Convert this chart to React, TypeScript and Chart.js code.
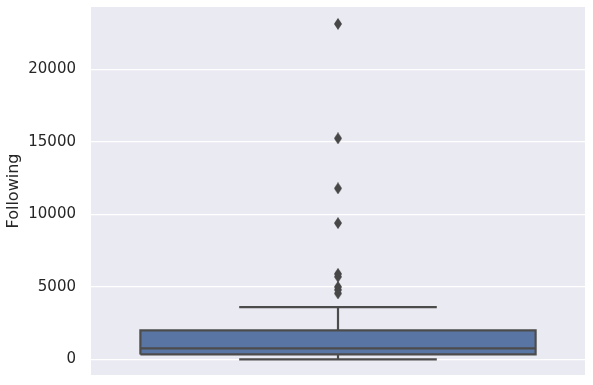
import React, { useEffect, useRef } from "react";
import { Chart, registerables } from "chart.js";

Chart.register(...registerables);

// Box statistics (Following)
const q1 = 340;
const median = 760;
const q3 = 2000;
const whiskerLow = 0;
const whiskerHigh = 3600;
const outliers = [23150, 15250, 11800, 9400, 5900, 5700, 5000, 4800, 4550];
const yTicks = [0, 5000, 10000, 15000, 20000];
const yLabel = "Following";

const boxHalf = 0.4;
const capHalf = 0.2;

const lineColor = "#4c4c4c";
const boxFill = "#5975a4";

function makeDiamond(): HTMLCanvasElement {
  const c = document.createElement("canvas");
  const w = 8, h = 12;
  c.width = w; c.height = h;
  const ctx = c.getContext("2d")!;
  ctx.fillStyle = "#474747";
  ctx.beginPath();
  ctx.moveTo(w / 2, 0);
  ctx.lineTo(w, h / 2);
  ctx.lineTo(w / 2, h);
  ctx.lineTo(0, h / 2);
  ctx.closePath();
  ctx.fill();
  return c;
}

export default function App() {
  const ref = useRef<HTMLCanvasElement>(null);
  useEffect(() => {
    const diamond = makeDiamond();
    const seg = (pts: { x: number; y: number }[]) => ({
      type: "line" as const,
      data: pts,
      borderColor: lineColor,
      borderWidth: 2.2,
      pointRadius: 0,
      fill: false,
      tension: 0,
    });
    const chart = new Chart(ref.current!, {
      type: "line",
      data: {
        datasets: [
          {
            type: "line",
            data: [
              { x: -boxHalf, y: q1 },
              { x: boxHalf, y: q1 },
              { x: boxHalf, y: q3 },
              { x: -boxHalf, y: q3 },
              { x: -boxHalf, y: q1 },
            ],
            borderColor: lineColor,
            backgroundColor: boxFill,
            borderWidth: 2.2,
            pointRadius: 0,
            fill: "shape",
            tension: 0,
            order: 1,
          } as any,
          seg([{ x: -boxHalf, y: median }, { x: boxHalf, y: median }]),
          seg([{ x: 0, y: q3 }, { x: 0, y: whiskerHigh }]),
          seg([{ x: 0, y: q1 }, { x: 0, y: whiskerLow }]),
          seg([{ x: -capHalf, y: whiskerHigh }, { x: capHalf, y: whiskerHigh }]),
          seg([{ x: -capHalf, y: whiskerLow }, { x: capHalf, y: whiskerLow }]),
          {
            type: "scatter",
            data: outliers.map((v) => ({ x: 0, y: v })),
            pointStyle: diamond,
            pointRadius: 5,
            showLine: false,
          } as any,
        ],
      },
      options: {
        animation: false,
        responsive: false,
        layout: { padding: { top: 7, bottom: 10, right: 8, left: 0 } },
        plugins: { legend: { display: false }, tooltip: { enabled: false } },
        scales: {
          x: { type: "linear", min: -0.5, max: 0.5, display: false },
          y: {
            type: "linear",
            min: -1083,
            max: 24317,
            border: { display: false },
            grid: { color: "#ffffff", lineWidth: 1.3, drawTicks: false },
            afterBuildTicks: (s: any) => {
              s.ticks = yTicks.map((v) => ({ value: v }));
            },
            afterFit: (s: any) => {
              s.width = 91;
              s.paddingTop = 0;
              s.paddingBottom = 0;
            },
            ticks: {
              padding: 15,
              color: "#262626",
              font: { family: "DejaVu Sans", size: 15 },
              callback: (v: any) => String(v),
            },
            title: {
              display: true,
              text: yLabel,
              color: "#262626",
              font: { family: "DejaVu Sans", size: 16 },
              padding: { top: 4, bottom: 0 },
            },
          },
        },
      },
      plugins: [
        {
          id: "bg",
          beforeDraw: (c: any) => {
            const { ctx, chartArea: a } = c;
            ctx.save();
            ctx.fillStyle = "#eaeaf2";
            ctx.fillRect(a.left, a.top, a.right - a.left, a.bottom - a.top);
            ctx.restore();
          },
        },
      ],
    });
    return () => chart.destroy();
  }, []);
  return (
    <div style={{ position: "fixed", left: 0, top: 0, width: 593, height: 385, background: "#fff" }}>
      <canvas ref={ref} width={593} height={385} />
    </div>
  );
}
